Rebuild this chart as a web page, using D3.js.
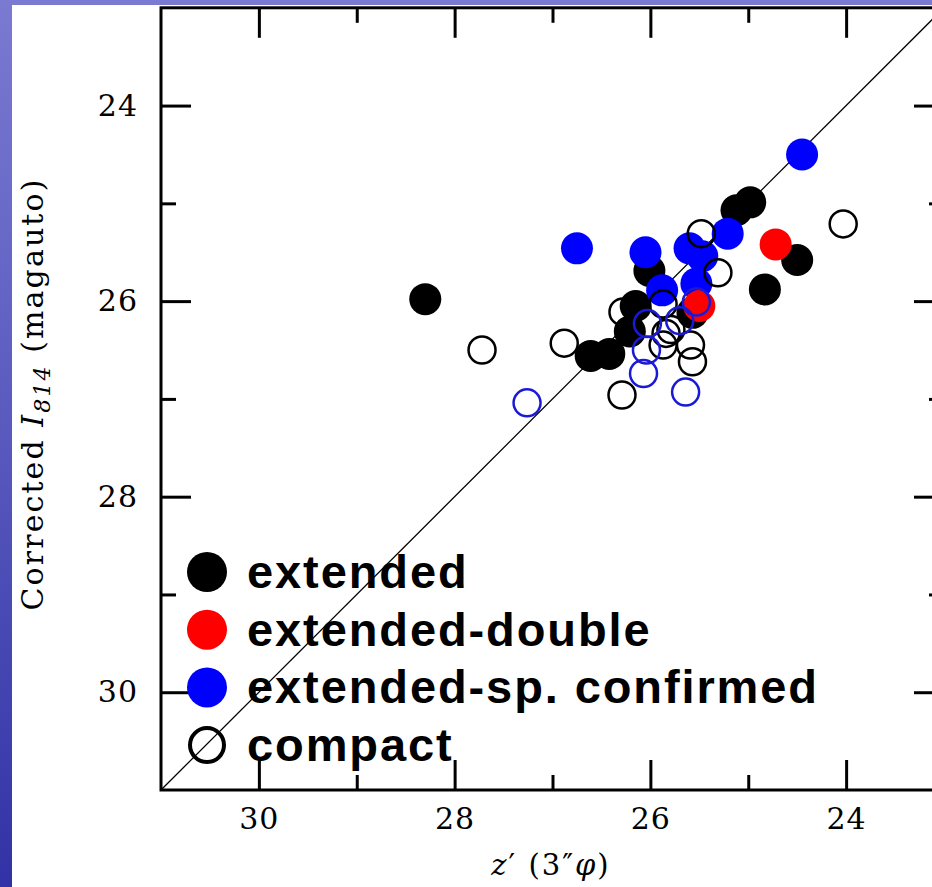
<!DOCTYPE html>
<html>
<head>
<meta charset="utf-8">
<script src="https://cdn.jsdelivr.net/npm/d3@7"></script>
<style>
  html, body { margin: 0; padding: 0; background: #fff; }
  svg { display: block; }
</style>
</head>
<body>
<div id="chart"></div>
<script>
var width = 932;
var height = 887;

// magnitudes: [z' (3"phi), corrected I814]
var extended = [
  [28.30, 25.98], [25.12, 25.07], [24.98, 24.99], [24.50, 25.58],
  [24.83, 25.88], [26.01, 25.69], [25.57, 26.12], [26.15, 26.05],
  [26.21, 26.31], [26.42, 26.54], [26.61, 26.56]
];
var extendedSp = [
  [24.45, 24.50], [26.75, 25.46], [26.05, 25.50], [25.60, 25.46],
  [25.47, 25.54], [25.21, 25.31], [25.88, 25.89], [25.53, 25.82]
];
var extendedDouble = [
  [24.72, 25.42], [25.50, 26.05]
];
var compact = [
  [24.03, 25.21], [25.48, 25.31], [25.31, 25.71], [26.88, 26.43],
  [27.72, 26.50], [26.28, 26.11], [25.87, 26.03], [25.84, 26.33],
  [25.87, 26.45], [25.59, 26.45], [25.57, 26.62], [26.29, 26.96],
  [25.79, 26.29]
];
var compactSp = [
  [27.26, 27.04], [26.07, 26.74], [26.04, 26.50], [26.03, 26.23],
  [25.70, 26.20], [25.64, 26.93], [25.53, 26.01]
];

var majorTicks = [24, 26, 28, 30];
var minorTicks = [25, 27, 29];
var legendLabels = ["extended", "extended-double", "extended-sp. confirmed", "compact"];
var legendColors = ["#000000", "#ff0000", "#0000ff", null];

var svg = d3.select("#chart").append("svg")
  .attr("width", width)
  .attr("height", height);

// powerpoint-ish blue backdrop
var defs = svg.append("defs");
var grad = defs.append("linearGradient")
  .attr("id", "bg")
  .attr("x1", 0).attr("y1", 0).attr("x2", 0).attr("y2", 1);
grad.append("stop").attr("offset", "0%").attr("stop-color", "#7a7ad2");
grad.append("stop").attr("offset", "45%").attr("stop-color", "#5c5cc0");
grad.append("stop").attr("offset", "100%").attr("stop-color", "#3232a6");

svg.append("rect")
  .attr("width", width).attr("height", height)
  .attr("fill", "url(#bg)");

svg.append("rect")
  .attr("x", 12).attr("y", 5)
  .attr("width", width - 12).attr("height", height - 5)
  .attr("fill", "#ffffff");

var x = d3.scaleLinear().domain([31, 23]).range([161, 944]);
var y = d3.scaleLinear().domain([23, 31]).range([7.8, 790]);

defs.append("clipPath").attr("id", "plotclip")
  .append("rect")
  .attr("x", x(31)).attr("y", y(23))
  .attr("width", x(23) - x(31)).attr("height", y(31) - y(23));

// axes, ticks pointing inward on all four sides
function styleAxis(g) {
  g.select(".domain").remove();
  g.selectAll(".tick line").attr("stroke", "#000").attr("stroke-width", 3);
  g.selectAll(".tick text")
    .attr("fill", "#000")
    .style("font-family", "'DejaVu Serif', serif")
    .style("font-size", "30px")
    .style("letter-spacing", "1px");
}

function addAxis(axisFn, scale, transform, ticks, size, labels, pad) {
  var a = axisFn(scale).tickValues(ticks).tickSize(-size).tickPadding(pad || 0);
  if (!labels) a.tickFormat("");
  svg.append("g")
    .attr("transform", transform)
    .call(a)
    .call(styleAxis);
}

addAxis(d3.axisBottom, x, "translate(0," + y(31) + ")", majorTicks, 30, true, 18);
addAxis(d3.axisBottom, x, "translate(0," + y(31) + ")", minorTicks, 15, false);
addAxis(d3.axisTop, x, "translate(0," + y(23) + ")", majorTicks, 30, false);
addAxis(d3.axisTop, x, "translate(0," + y(23) + ")", minorTicks, 15, false);
addAxis(d3.axisLeft, y, "translate(" + x(31) + ",0)", majorTicks, 30, true, 23);
addAxis(d3.axisLeft, y, "translate(" + x(31) + ",0)", minorTicks, 15, false);
addAxis(d3.axisRight, y, "translate(" + x(23) + ",0)", majorTicks, 30, false);
addAxis(d3.axisRight, y, "translate(" + x(23) + ",0)", minorTicks, 15, false);

svg.append("rect")
  .attr("x", x(31)).attr("y", y(23))
  .attr("width", x(23) - x(31)).attr("height", y(31) - y(23))
  .attr("fill", "none")
  .attr("stroke", "#000")
  .attr("stroke-width", 3);

var plot = svg.append("g").attr("clip-path", "url(#plotclip)");

// one-to-one line
plot.append("line")
  .attr("x1", x(31)).attr("y1", y(31))
  .attr("x2", x(23)).attr("y2", y(23))
  .attr("stroke", "#000")
  .attr("stroke-width", 1.3);

function filled(data, color) {
  plot.append("g").selectAll("circle")
    .data(data)
    .join("circle")
    .attr("cx", function(d) { return x(d[0]); })
    .attr("cy", function(d) { return y(d[1]); })
    .attr("r", 16)
    .attr("fill", color);
}

function open(data, color) {
  plot.append("g").selectAll("circle")
    .data(data)
    .join("circle")
    .attr("cx", function(d) { return x(d[0]); })
    .attr("cy", function(d) { return y(d[1]); })
    .attr("r", 13.5)
    .attr("fill", "none")
    .attr("stroke", color)
    .attr("stroke-width", 2.5);
}

filled(extended, "#000000");
filled(extendedSp, "#0000ff");
filled(extendedDouble, "#ff0000");
open(compact, "#000000");
open(compactSp, "#1a1ad6");

// legend
var legend = svg.append("g");
legendLabels.forEach(function(label, i) {
  var cy = 572 + i * 57.7;
  if (legendColors[i]) {
    legend.append("circle")
      .attr("cx", 207).attr("cy", cy).attr("r", 20)
      .attr("fill", legendColors[i]);
  } else {
    legend.append("circle")
      .attr("cx", 207).attr("cy", cy).attr("r", 17)
      .attr("fill", "none")
      .attr("stroke", "#000")
      .attr("stroke-width", 4);
  }
  legend.append("text")
    .attr("x", 247).attr("y", cy + 16)
    .style("font-family", "'Liberation Sans', Arial, sans-serif")
    .style("font-weight", "bold")
    .style("font-size", "47px")
    .style("letter-spacing", "1.9px")
    .attr("fill", "#000")
    .text(label);
});

// axis titles
var xt = svg.append("text")
  .attr("x", 551).attr("y", 875)
  .attr("text-anchor", "middle")
  .style("font-family", "'DejaVu Serif', serif")
  .style("font-size", "29px")
  .style("letter-spacing", "2px")
  .attr("fill", "#000");
xt.append("tspan").style("font-style", "italic").text("z");
xt.append("tspan").text("\u2032 (3\u2033");
xt.append("tspan").style("font-style", "italic").text("\u03c6");
xt.append("tspan").text(")");

var yt = svg.append("text")
  .attr("transform", "translate(43,394) rotate(-90)")
  .attr("text-anchor", "middle")
  .style("font-family", "'DejaVu Serif', serif")
  .style("font-size", "30px")
  .style("letter-spacing", "2.1px")
  .attr("fill", "#000");
yt.append("tspan").text("Corrected ");
yt.append("tspan").style("font-style", "italic").text("I");
yt.append("tspan").style("font-style", "italic").style("font-size", "22px")
  .attr("dy", 7).text("814");
yt.append("tspan").attr("dy", -7).text(" (magauto)");
</script>
</body>
</html>
